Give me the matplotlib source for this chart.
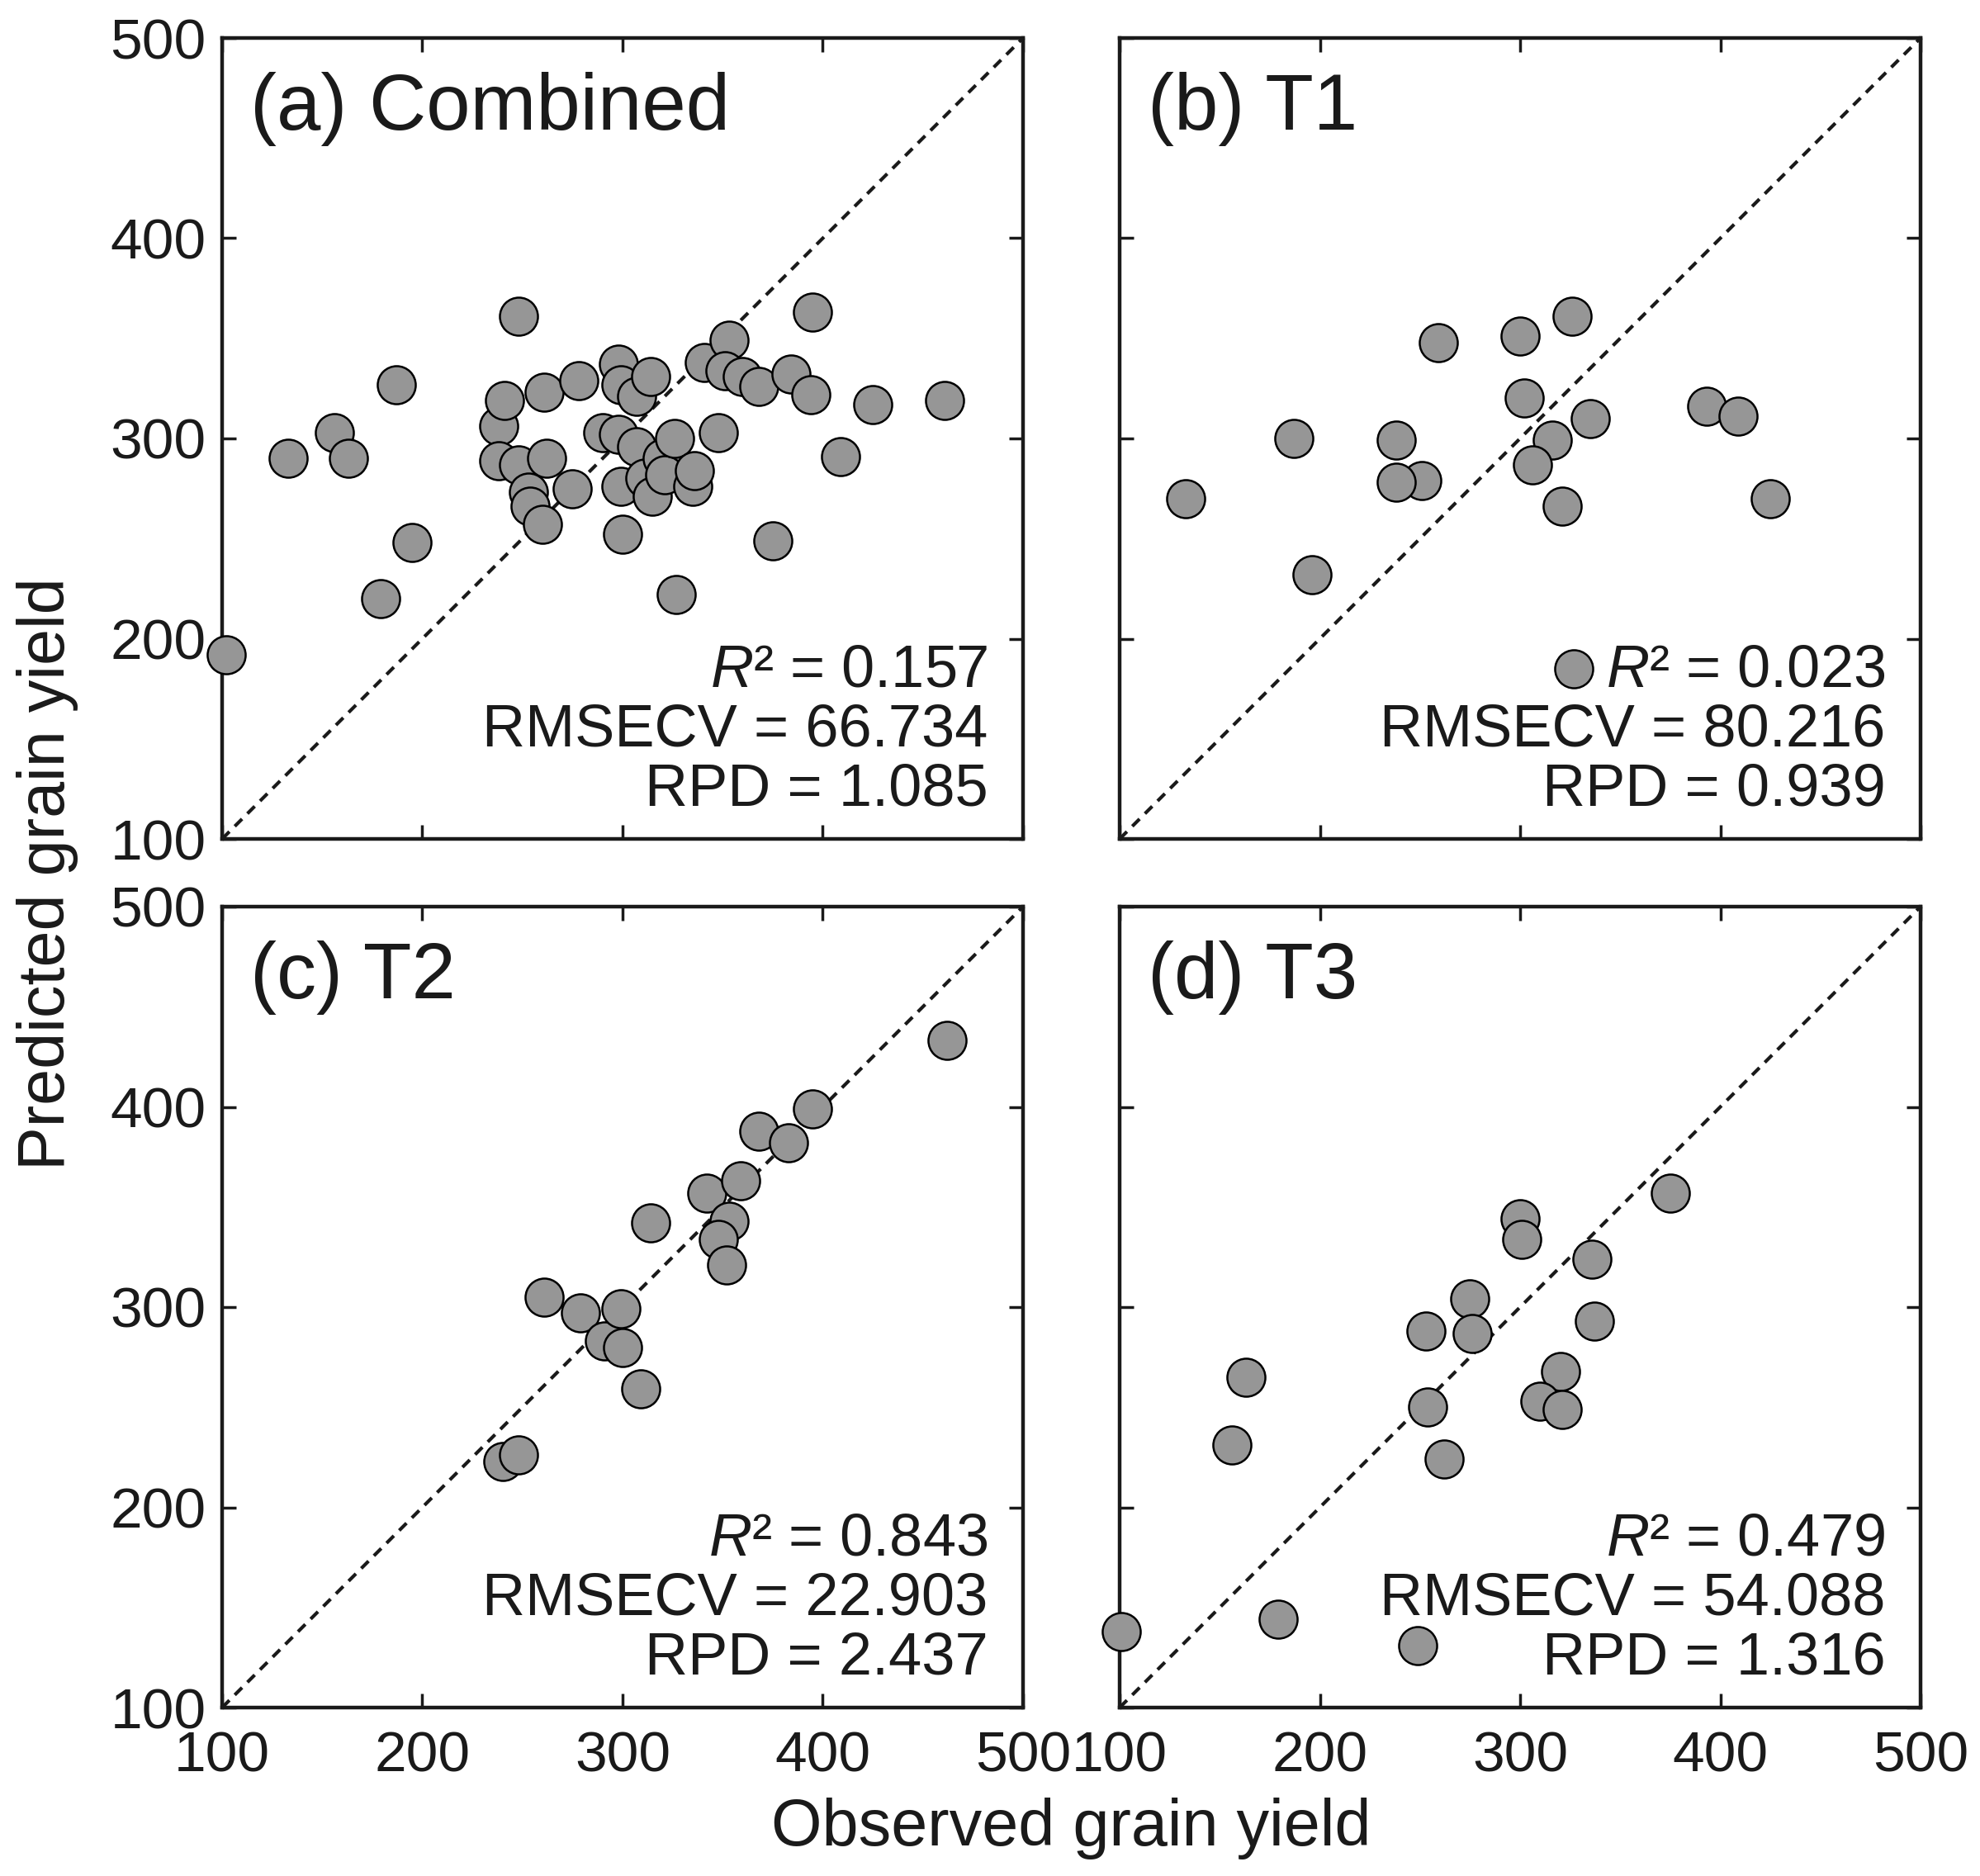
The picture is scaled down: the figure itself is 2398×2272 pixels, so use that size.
import matplotlib
matplotlib.use('Agg')
import matplotlib.pyplot as plt
import numpy as np

plt.rcParams['font.family'] = ['Liberation Sans', 'DejaVu Sans']
plt.rcParams['mathtext.fontset'] = 'custom'
plt.rcParams['mathtext.rm'] = 'Liberation Sans'
plt.rcParams['mathtext.it'] = 'Liberation Sans:italic'

# (a) Combined
obs_a = [133, 156, 163, 187, 179, 195, 102, 248, 238, 241, 238, 248, 262, 261, 278,
         253, 254, 260, 275, 290, 298, 299, 307, 314, 298, 307, 299, 300, 311, 315,
         320, 321, 326, 335, 336, 327, 348, 341, 353, 351, 360, 368, 384, 394, 395,
         375, 409, 425, 461]
pred_a = [290, 303, 290, 327, 220, 248, 192, 361, 306, 319, 289, 287, 290, 323, 329,
          273, 266, 257, 275, 303, 337, 327, 321, 331, 302, 296, 276, 252, 280, 271,
          290, 282, 300, 276, 284, 222, 303, 338, 349, 334, 331, 326, 332, 322, 363,
          249, 291, 317, 319]

# (b) T1
obs_b = [133, 187, 196, 238, 251, 238, 259, 300, 326, 302, 335, 316, 306, 321, 393,
         409, 425, 327]
pred_b = [270, 300, 232, 299, 279, 278, 348, 351, 361, 320, 310, 299, 287, 266, 316,
          311, 270, 185]

# (c) T2
obs_c = [240, 248, 261, 279, 291, 299, 300, 309, 314, 342, 353, 348, 352, 359, 368,
         383, 395, 462]
pred_c = [223, 226, 305, 297, 283, 299, 280, 259, 342, 357, 343, 334, 321, 363, 388,
          382, 399, 433]

# (d) T3
obs_d = [101, 179, 249, 156, 163, 253, 254, 262, 275, 276, 300, 301, 320, 310, 321,
         336, 337, 375]
pred_d = [138, 144, 131, 231, 265, 288, 250, 224, 304, 287, 344, 334, 268, 253, 249,
          324, 293, 357]

titles = ['(a) Combined', '(b) T1', '(c) T2', '(d) T3']
r2 = ['0.157', '0.023', '0.843', '0.479']
rmsecv = ['66.734', '80.216', '22.903', '54.088']
rpd = ['1.085', '0.939', '2.437', '1.316']
ticks = [100, 200, 300, 400, 500]

obs = [obs_a, obs_b, obs_c, obs_d]
pred = [pred_a, pred_b, pred_c, pred_d]

fig = plt.figure(figsize=(23.98, 22.72), dpi=100)
W, H = 2398, 2272
lefts = [269, 1356]
tops = [46, 1098]
size = 970
ink = '#1a1a1a'

for i in range(4):
    row, col = i // 2, i % 2
    ax = fig.add_axes([lefts[col] / W, 1 - (tops[row] + size) / H, size / W, size / H])
    ax.plot([100, 500], [100, 500], color=ink, ls=(0, (3, 2.2)), lw=3, zorder=1)
    ax.scatter(obs[i], pred[i], s=1100, facecolor='#969696', edgecolor='black',
               linewidth=1.8, zorder=3, clip_on=False)
    ax.set_xlim(100, 500)
    ax.set_ylim(100, 500)
    ax.set_xticks(ticks)
    ax.set_yticks(ticks)
    ax.tick_params(direction='in', length=12, width=2.5, top=True, right=True,
                   labelsize=50, colors=ink)
    ax.tick_params(axis='y', pad=14)
    ax.tick_params(axis='x', pad=20)
    if col == 1:
        ax.set_yticklabels([])
    if row == 0:
        ax.set_xticklabels([])
    for sp in ax.spines.values():
        sp.set_linewidth(3.2)
        sp.set_color(ink)
    ax.text(0.035, 0.958, titles[i], transform=ax.transAxes, fontsize=69,
            ha='left', va='top', color=ink)
    ax.text(0.956, 0.190, r'$\it{R}$' + '\u00b2 = ' + r2[i], transform=ax.transAxes,
            fontsize=52, ha='right', va='baseline', color=ink)
    ax.text(0.956, 0.116, 'RMSECV = ' + rmsecv[i], transform=ax.transAxes,
            fontsize=52, ha='right', va='baseline', color=ink)
    ax.text(0.956, 0.042, 'RPD = ' + rpd[i], transform=ax.transAxes,
            fontsize=52, ha='right', va='baseline', color=ink)

fig.text(58 / W, 1 - 1058 / H, 'Predicted grain yield', rotation=90, fontsize=57,
         ha='center', va='center', color=ink)
fig.text(1297 / W, 1 - 2214 / H, 'Observed grain yield', fontsize=57,
         ha='center', va='center', color=ink)

fig.savefig('out.png', dpi=100, facecolor='white')
